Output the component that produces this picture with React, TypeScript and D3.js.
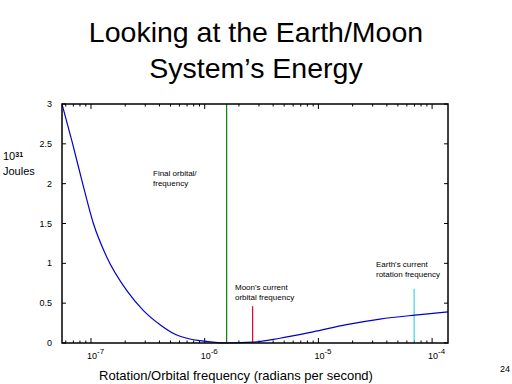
import React, { useEffect, useRef } from 'react';
import * as d3 from 'd3';

// energy curve, frequency in rad/s vs energy in 10^31 J
const freqs = [5.56e-8, 6.81e-8, 8.28e-8, 1.05e-7, 1.375e-7, 2.06e-7, 2.88e-7, 4.05e-7, 5.68e-7, 7.43e-7, 9.1e-7, 1.56e-6, 2.67e-6, 4.59e-6, 8.97e-6, 1.77e-5, 3.48e-5, 7.08e-5, 1.38e-4];
const energy = [3.0, 2.53, 2.05, 1.5, 1.08, 0.66, 0.41, 0.23, 0.1, 0.05, 0.03, 0.0, 0.01, 0.06, 0.14, 0.23, 0.3, 0.35, 0.39];

const yTicks = [0, 0.5, 1, 1.5, 2, 2.5, 3];
const xDecades = [-7, -6, -5, -4];

const markers = [
  { f: 1.56e-6, top: 3, color: '#008000', lines: ['Final orbital/', 'frequency'], lx: 153, ly: 176 },
  { f: 2.64e-6, top: 0.46, color: '#e8002a', lines: ["Moon's current", 'orbital frequency'], lx: 235, ly: 290 },
  { f: 6.95e-5, top: 0.68, color: '#48d0d8', lines: ["Earth's current", 'rotation frequency'], lx: 376, ly: 267 },
];

const W = 512, H = 384;
const left = 62, right = 448, top = 104, bottom = 343;

export default function App() {
  const ref = useRef<SVGSVGElement>(null);

  useEffect(() => {
    const svg = d3.select(ref.current);
    svg.selectAll('*').remove();
    const font = 'Liberation Sans, Arial, sans-serif';

    const x = d3.scaleLog().domain([5.56e-8, 1.38e-4]).range([left, right]);
    const y = d3.scaleLinear().domain([0, 3]).range([bottom, top]);

    // title
    svg.append('text').attr('x', 256).attr('y', 42).attr('text-anchor', 'middle')
      .style('font-family', font).style('font-size', '28.5px').text('Looking at the Earth/Moon');
    svg.append('text').attr('x', 256).attr('y', 78).attr('text-anchor', 'middle')
      .style('font-family', font).style('font-size', '28.5px').text('System\u2019s Energy');

    const g = svg.append('g');

    // ticks, pointing inward
    const ticks = g.append('g').attr('stroke', '#000').attr('stroke-width', 1);
    yTicks.forEach(v => {
      ticks.append('line').attr('x1', left).attr('x2', left + 4).attr('y1', y(v)).attr('y2', y(v));
      ticks.append('line').attr('x1', right).attr('x2', right - 4).attr('y1', y(v)).attr('y2', y(v));
    });
    const [d0, d1] = x.domain();
    for (let e = -8; e <= -4; e++) {
      for (let m = 1; m <= 9; m++) {
        const v = m * Math.pow(10, e);
        if (v < d0 || v > d1) continue;
        const len = m === 1 ? 5 : 2.5;
        ticks.append('line').attr('x1', x(v)).attr('x2', x(v)).attr('y1', bottom).attr('y2', bottom - len);
        ticks.append('line').attr('x1', x(v)).attr('x2', x(v)).attr('y1', top).attr('y2', top + len);
      }
    }

    // y tick labels
    yTicks.forEach(v => {
      g.append('text').attr('x', 52).attr('y', y(v) + 3).attr('text-anchor', 'end')
        .style('font-family', font).style('font-size', '9px').text(String(v));
    });

    // x tick labels
    xDecades.forEach(e => {
      const t = g.append('text').attr('x', x(Math.pow(10, e)) - 4).attr('y', 359)
        .style('font-family', font).style('font-size', '9px');
      t.append('tspan').text('10');
      t.append('tspan').attr('dy', -5).style('font-size', '8px').text(String(e));
    });

    // markers
    markers.forEach(mk => {
      g.append('line').attr('x1', x(mk.f)).attr('x2', x(mk.f)).attr('y1', y(0)).attr('y2', y(mk.top))
        .attr('stroke', mk.color).attr('stroke-width', 1.2);
      mk.lines.forEach((s, i) => {
        g.append('text').attr('x', mk.lx).attr('y', mk.ly + i * 10)
          .style('font-family', font).style('font-size', '8px').text(s);
      });
    });

    // curve
    const line = d3.line<number>()
      .x((_, i) => x(freqs[i]))
      .y(d => y(d))
      .curve(d3.curveMonotoneX);
    g.append('path').attr('d', line(energy)).attr('fill', 'none')
      .attr('stroke', '#0000cc').attr('stroke-width', 1.2);

    // frame
    g.append('rect').attr('x', left).attr('y', top).attr('width', right - left).attr('height', bottom - top)
      .attr('fill', 'none').attr('stroke', '#000').attr('stroke-width', 1.5);

    // y label
    const yl = svg.append('text').attr('x', 3).attr('y', 160)
      .style('font-family', font).style('font-size', '11px');
    yl.append('tspan').text('10');
    yl.append('tspan').attr('dy', -3).style('font-size', '7px').style('font-weight', 'bold').text('31');
    svg.append('text').attr('x', 3).attr('y', 175)
      .style('font-family', font).style('font-size', '11px').text('Joules');

    // x label
    svg.append('text').attr('x', 236).attr('y', 380).attr('text-anchor', 'middle')
      .style('font-family', font).style('font-size', '13px')
      .text('Rotation/Orbital frequency (radians per second)');

    svg.append('text').attr('x', 500).attr('y', 372)
      .style('font-family', font).style('font-size', '9px').text('24');
  }, []);

  return (
    <svg ref={ref} width={W} height={H} style={{ position: 'absolute', left: 0, top: 0, background: '#fff' }} />
  );
}
